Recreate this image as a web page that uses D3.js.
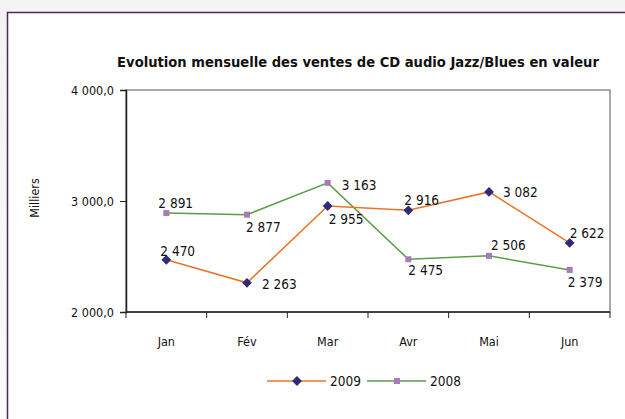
<!DOCTYPE html>
<html>
<head>
<meta charset="utf-8">
<script src="https://cdn.jsdelivr.net/npm/d3@7"></script>
<style>
  body { margin: 0; background: #fff; }
  svg { display: block; }
  text { font-family: "DejaVu Sans Condensed", "Liberation Sans Narrow", sans-serif; fill: #111; }
  .axis path, .axis line { stroke: #222; }
</style>
</head>
<body>
<div id="chart"></div>
<script>
var months = ["Jan", "Fév", "Mar", "Avr", "Mai", "Jun"];
var ventes2009 = [2470, 2263, 2955, 2916, 3082, 2622];
var ventes2008 = [2891, 2877, 3163, 2475, 2506, 2379];
var yTicks = [2000, 3000, 4000];
var seriesNames = ["2009", "2008"];

// where each value label sits relative to its point (dx, dy to baseline)
var offsets2009 = [[-6, -4], [15, 6], [1, 18], [-4, -5], [14, 5], [0, -5]];
var offsets2008 = [[-8, -5], [-1, 17], [14, 7], [0, 16], [2, -6], [-2, 17]];

var W = 625, H = 419;
var margin = {top: 90, right: 15, bottom: 107, left: 126},
    width = W - margin.left - margin.right,
    height = H - margin.top - margin.bottom;

var root = d3.select("#chart").append("svg")
    .attr("width", W)
    .attr("height", H);

// faint grey surround + frame
var grad = root.append("defs").append("linearGradient")
    .attr("id", "bg").attr("x1", 0).attr("y1", 0).attr("x2", 0).attr("y2", 1);
grad.append("stop").attr("offset", "0").attr("stop-color", "#f3f3f3");
grad.append("stop").attr("offset", "1").attr("stop-color", "#fafafa");
root.append("rect").attr("width", W).attr("height", H).attr("fill", "url(#bg)");
root.append("rect")
    .attr("x", 7.5).attr("y", 12.5)
    .attr("width", W).attr("height", H)
    .attr("fill", "#fff")
    .attr("stroke", "#4a2a5e")
    .attr("stroke-width", 1.5);

root.append("text")
    .attr("x", 358).attr("y", 67)
    .attr("text-anchor", "middle")
    .attr("font-size", 14.6)
    .attr("font-weight", "bold")
    .text("Evolution mensuelle des ventes de CD audio Jazz/Blues en valeur");

var svg = root.append("g")
    .attr("transform", "translate(" + margin.left + "," + margin.top + ")");

var x = d3.scaleBand()
    .domain(months)
    .range([0, width]);

var y = d3.scaleLinear()
    .domain([2000, 4000])
    .range([height, 0]);

var fmt = function(v) { return d3.format(",.1f")(v).replace(",", " ").replace(".", ","); };

// plot box
svg.append("rect")
    .attr("width", width).attr("height", height)
    .attr("fill", "none")
    .attr("stroke", "#555")
    .attr("stroke-width", 1);

svg.append("g")
    .attr("class", "axis")
    .call(d3.axisLeft(y).tickValues(yTicks).tickFormat(fmt).tickSize(6).tickPadding(6))
    .call(function(g) {
        g.select(".domain").attr("stroke-width", 1.5);
        g.selectAll("text").attr("font-size", 12.5).attr("fill", "#111");
    });

// x axis: ticks sit on the band edges
var xAxis = svg.append("g")
    .attr("class", "axis")
    .attr("transform", "translate(0," + height + ")");
xAxis.append("line")
    .attr("x1", 0).attr("x2", width)
    .attr("stroke", "#222").attr("stroke-width", 1.5);
xAxis.selectAll(".edge")
    .data(months.concat(["end"]))
    .enter().append("line")
    .attr("x1", function(d, i) { return i * x.bandwidth(); })
    .attr("x2", function(d, i) { return i * x.bandwidth(); })
    .attr("y1", 0).attr("y2", 6)
    .attr("stroke", "#222");
xAxis.selectAll(".lab")
    .data(months)
    .enter().append("text")
    .attr("x", function(d) { return x(d) + x.bandwidth() / 2; })
    .attr("y", 34)
    .attr("text-anchor", "middle")
    .attr("font-size", 12.5)
    .text(function(d) { return d; });

root.append("text")
    .attr("transform", "translate(39,198) rotate(-90)")
    .attr("text-anchor", "middle")
    .attr("font-size", 12.5)
    .text("Milliers");

var cx = function(d, i) { return x(months[i]) + x.bandwidth() / 2; };
var line = d3.line()
    .x(function(d, i) { return cx(d, i); })
    .y(function(d) { return y(d); });

var num = function(v) { return d3.format(",")(v).replace(",", " "); };

var series = [
    {name: seriesNames[0], values: ventes2009, line: "#e8742a", mark: "#2e2a78", rot: 45, size: 48, off: offsets2009},
    {name: seriesNames[1], values: ventes2008, line: "#5a9e46", mark: "#a87ab6", rot: 0, size: 36, off: offsets2008}
];

series.slice().reverse().forEach(function(s) {
    svg.append("path")
        .datum(s.values)
        .attr("fill", "none")
        .attr("stroke", s.line)
        .attr("stroke-width", 1.5)
        .attr("d", line);
});

series.forEach(function(s) {
    svg.selectAll(null)
        .data(s.values)
        .enter().append("path")
        .attr("transform", function(d, i) { return "translate(" + cx(d, i) + "," + y(d) + ") rotate(" + s.rot + ")"; })
        .attr("d", d3.symbol().type(d3.symbolSquare).size(s.size))
        .attr("fill", s.mark);

    svg.selectAll(null)
        .data(s.values)
        .enter().append("text")
        .attr("x", function(d, i) { return cx(d, i) + s.off[i][0]; })
        .attr("y", function(d, i) { return y(d) + s.off[i][1]; })
        .attr("font-size", 13.5)
        .text(function(d) { return num(d); });
});

// legend
var legend = root.append("g").attr("transform", "translate(267,381)");
series.forEach(function(s, i) {
    var g = legend.append("g").attr("transform", "translate(" + (i * 100) + ",0)");
    g.append("line").attr("x1", 0).attr("x2", 59).attr("stroke", s.line).attr("stroke-width", 1.5);
    g.append("path")
        .attr("transform", "translate(30,0) rotate(" + s.rot + ")")
        .attr("d", d3.symbol().type(d3.symbolSquare).size(s.size))
        .attr("fill", s.mark);
    g.append("text").attr("x", 63).attr("y", 5).attr("font-size", 13.5).text(s.name);
});
</script>
</body>
</html>
